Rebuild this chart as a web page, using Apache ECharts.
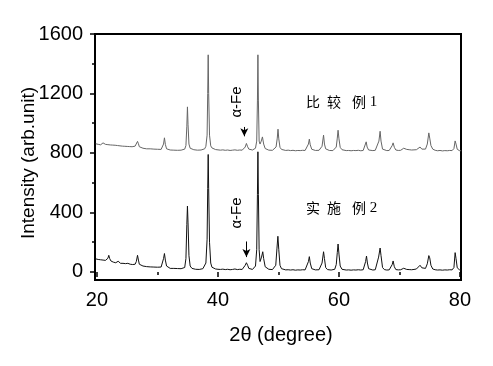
<!DOCTYPE html>
<html>
<head>
<meta charset="utf-8">
<script src="https://cdn.jsdelivr.net/npm/echarts@6/dist/echarts.min.js"></script>
<style>
html,body{margin:0;padding:0;background:#fff;}
#chart{width:493px;height:366px;}
</style>
</head>
<body>
<div id="chart"></div>
<script>
// 2θ (degree) and intensity for 比较例1 (upper trace)
var cmpAngle = [19.8,20.0,20.2,20.4,20.6,20.8,21.0,21.2,21.4,21.6,21.8,22.0,22.2,22.4,22.6,22.8,23.0,23.2,23.4,23.6,23.8,24.0,24.2,24.4,24.6,24.8,25.0,25.2,25.4,25.6,25.8,26.0,26.3,26.5,26.7,26.85,27.0,27.3,27.6,27.9,28.2,28.5,28.8,29.1,29.4,29.7,30.0,30.3,30.6,30.8,31.0,31.15,31.3,31.5,31.8,32.1,32.4,32.7,33.0,33.3,33.6,33.9,34.2,34.5,34.7,34.85,34.95,35.05,35.2,35.4,35.7,36.0,36.3,36.6,36.9,37.2,37.5,37.8,38.0,38.2,38.3,38.38,38.46,38.6,38.8,39.0,39.3,39.6,40.0,40.4,40.8,41.2,41.6,42.0,42.4,42.8,43.2,43.6,44.0,44.3,44.5,44.7,44.9,45.1,45.4,45.7,46.0,46.2,46.4,46.52,46.6,46.68,46.8,46.95,47.15,47.35,47.55,47.8,48.1,48.4,48.7,49.0,49.3,49.6,49.8,49.92,50.05,50.25,50.5,50.8,51.2,51.6,52.0,52.4,52.8,53.2,53.6,54.0,54.4,54.7,54.95,55.1,55.25,55.5,55.8,56.1,56.4,56.7,57.0,57.2,57.45,57.6,57.8,58.1,58.4,58.7,59.0,59.3,59.55,59.72,59.85,60.0,60.2,60.5,60.8,61.2,61.6,62.0,62.4,62.8,63.2,63.6,64.0,64.3,64.5,64.65,64.9,65.2,65.6,66.0,66.3,66.6,66.8,66.95,67.2,67.5,67.9,68.3,68.6,68.8,68.95,69.15,69.4,69.8,70.2,70.5,70.7,70.9,71.2,71.6,72.0,72.4,72.8,73.1,73.4,73.7,74.0,74.3,74.6,74.85,75.0,75.2,75.5,75.9,76.3,76.7,77.1,77.5,77.9,78.3,78.7,79.0,79.2,79.35,79.55,79.9,80.2];
var cmpIntensity = [862,866,858,862,855,860,868,856,858,852,856,864,854,850,853,848,852,847,850,845,848,844,846,842,845,841,844,840,843,839,842,840,846,858,878,862,842,836,832,830,828,826,828,824,826,823,825,822,824,830,860,902,858,828,822,820,822,819,821,818,820,819,821,826,850,980,1110,990,860,832,824,822,820,819,821,820,823,828,845,920,1200,1460,1200,920,848,834,827,823,821,819,821,818,820,817,819,821,818,820,819,824,840,864,842,826,821,820,823,832,880,1150,1460,1150,880,860,880,908,860,830,822,819,820,818,822,840,900,960,895,838,824,819,817,819,816,818,815,817,816,818,817,825,860,893,855,825,818,817,816,818,822,845,920,860,828,819,817,818,816,819,840,900,953,895,838,822,818,816,817,815,817,816,818,815,817,826,875,840,820,817,816,818,826,880,946,880,826,818,816,817,822,850,868,838,820,817,818,825,832,826,824,822,820,821,822,828,840,826,822,826,860,935,900,850,826,818,815,817,814,816,815,817,816,830,881,860,825,816,815];

// 2θ (degree) and intensity for 实施例2 (lower trace)
var expAngle = [19.8,20.0,20.2,20.4,20.6,20.8,21.0,21.2,21.4,21.6,21.8,21.95,22.1,22.3,22.5,22.7,22.9,23.1,23.3,23.5,23.7,23.9,24.1,24.3,24.5,24.7,24.9,25.1,25.3,25.5,25.7,25.9,26.1,26.3,26.5,26.7,26.85,27.0,27.3,27.6,27.9,28.2,28.5,28.8,29.1,29.4,29.7,30.0,30.3,30.6,30.8,31.0,31.15,31.3,31.5,31.8,32.1,32.4,32.7,33.0,33.3,33.6,33.9,34.2,34.5,34.7,34.85,34.95,35.05,35.2,35.4,35.7,36.0,36.3,36.6,36.9,37.2,37.5,37.8,38.0,38.2,38.3,38.38,38.46,38.6,38.8,39.0,39.3,39.6,40.0,40.4,40.8,41.2,41.6,42.0,42.4,42.8,43.2,43.6,44.0,44.3,44.5,44.7,44.9,45.1,45.4,45.7,46.0,46.2,46.4,46.52,46.6,46.68,46.8,46.95,47.2,47.4,47.55,47.8,48.1,48.4,48.7,49.0,49.3,49.55,49.75,49.9,50.05,50.25,50.5,50.8,51.2,51.6,52.0,52.4,52.8,53.2,53.6,54.0,54.4,54.7,54.95,55.1,55.25,55.5,55.8,56.1,56.4,56.7,57.0,57.2,57.45,57.6,57.8,58.1,58.4,58.7,59.0,59.3,59.55,59.72,59.85,60.0,60.2,60.5,60.8,61.2,61.6,62.0,62.4,62.8,63.2,63.6,64.0,64.2,64.4,64.55,64.7,64.9,65.2,65.6,66.0,66.3,66.55,66.8,66.95,67.2,67.5,67.9,68.3,68.6,68.8,68.95,69.15,69.4,69.8,70.2,70.5,70.7,70.9,71.2,71.6,72.0,72.4,72.8,73.1,73.4,73.7,74.0,74.3,74.6,74.85,75.0,75.2,75.5,75.9,76.3,76.7,77.1,77.5,77.9,78.3,78.7,79.0,79.2,79.35,79.55,79.9,80.2];
var expIntensity = [88,90,84,88,82,78,80,76,78,80,92,112,90,74,70,66,68,62,66,72,60,58,56,58,54,56,52,58,50,52,48,50,48,52,70,112,80,52,44,40,38,36,38,34,36,33,35,32,34,33,45,90,124,80,40,27,24,22,24,21,23,20,22,21,30,90,320,443,330,110,40,24,20,18,19,17,19,22,30,60,220,560,790,560,200,60,32,24,20,18,17,19,16,18,15,17,20,16,18,17,24,45,62,45,24,18,17,22,40,150,520,808,520,150,70,100,136,90,35,22,18,17,16,20,45,160,240,150,45,22,16,14,15,13,15,12,14,13,15,14,22,70,103,60,22,15,14,13,15,22,60,136,90,30,16,14,13,15,18,50,130,188,120,40,18,14,13,14,12,14,13,15,13,15,24,70,107,60,22,15,13,15,28,100,161,110,30,16,13,14,20,50,74,35,16,14,15,20,25,20,17,16,15,17,20,28,45,28,20,24,55,110,95,45,20,15,13,14,12,14,13,15,14,30,130,90,28,15,13];

// axis ticks / labels
var xLabelValues = [20, 40, 60, 80];
var xMinorValues = [30, 50, 70];
var yLabelValues = [0, 400, 800, 1200, 1600];
var yMinorValues = [200, 600, 1000, 1400];

// α-Fe marker arrows: [2θ, from, to]
var arrowUpper = [44.35, 975, 912];
var arrowLower = [44.7, 205, 100];

function pairs(xs, ys){ return xs.map(function(x,i){ return [x, ys[i]]; }); }

var chart = echarts.init(document.getElementById('chart'), null, {renderer:'canvas'});
var axisFont = 'Liberation Sans, Arial, sans-serif';
var XMIN = 19.67, XMAX = 80.17, YMIN = -54, YMAX = 1600;
function plain(v){ return String(v); }

function arrowLine(a){
  return {
    silent: true,
    symbol: ['none', 'arrow'],
    symbolSize: [6, 8],
    label: {show: false},
    emphasis: {disabled: true},
    lineStyle: {color: '#000', width: 1, type: 'solid'},
    data: [[{coord: [a[0], a[1]]}, {coord: [a[0], a[2]]}]]
  };
}

var cjk = '14px "Noto Sans CJK SC"';
function glyph(t, x, y, font){
  return {type: 'text', x: x, y: y, style: {text: t, textAlign: 'center', textVerticalAlign: 'middle', font: font, fill: '#000'}};
}

var option = {
  animation: false,
  backgroundColor: '#fff',
  grid: {left: 95, right: 32, top: 34, bottom: 86, show: true, borderColor: '#000', borderWidth: 2, backgroundColor: 'transparent'},
  xAxis: [
    {type: 'value', min: XMIN, max: XMAX, position: 'bottom',
     axisLine: {show: false},
     splitLine: {show: false},
     axisTick: {show: true, length: 5, customValues: xLabelValues, lineStyle: {color: '#000', width: 1.5}},
     axisLabel: {show: true, customValues: xLabelValues, formatter: plain, margin: 10, color: '#000', fontSize: 20, fontFamily: axisFont}},
    {type: 'value', min: XMIN, max: XMAX, position: 'bottom',
     axisLine: {show: false}, splitLine: {show: false},
     axisTick: {show: true, length: 3, customValues: xMinorValues, lineStyle: {color: '#000', width: 1.5}},
     axisLabel: {show: false}}
  ],
  yAxis: [
    {type: 'value', min: YMIN, max: YMAX, position: 'left',
     axisLine: {show: false}, splitLine: {show: false},
     axisTick: {show: true, length: 5, customValues: yLabelValues, lineStyle: {color: '#000', width: 1.5}},
     axisLabel: {show: true, customValues: yLabelValues, formatter: plain, margin: 12, color: '#000', fontSize: 20, fontFamily: axisFont}},
    {type: 'value', min: YMIN, max: YMAX, position: 'left',
     axisLine: {show: false}, splitLine: {show: false},
     axisTick: {show: true, length: 3, customValues: yMinorValues, lineStyle: {color: '#000', width: 1.5}},
     axisLabel: {show: false}}
  ],
  series: [
    {name: '比较例1', type: 'line', xAxisIndex: 0, yAxisIndex: 0, showSymbol: false, symbol: 'none',
     lineStyle: {color: '#666', width: 1}, data: pairs(cmpAngle, cmpIntensity), z: 3,
     markLine: arrowLine(arrowUpper)},
    {name: '实施例2', type: 'line', xAxisIndex: 0, yAxisIndex: 0, showSymbol: false, symbol: 'none',
     lineStyle: {color: '#111', width: 1}, data: pairs(expAngle, expIntensity), z: 4,
     markLine: arrowLine(arrowLower)}
  ],
  graphic: [
    {type: 'text', x: 29, y: 163, rotation: Math.PI/2,
     style: {text: 'Intensity (arb.unit)', x: 0, y: 0, textAlign: 'center', textVerticalAlign: 'middle', font: '19px ' + axisFont, fill: '#000'}},
    {type: 'text', x: 281, y: 335,
     style: {text: '2θ (degree)', textAlign: 'center', textVerticalAlign: 'middle', font: '20px ' + axisFont, fill: '#000'}},
    {type: 'text', x: 237, y: 102, rotation: Math.PI/2,
     style: {text: 'α-Fe', x: 0, y: 0, textAlign: 'center', textVerticalAlign: 'middle', font: '15px ' + axisFont, fill: '#000'}},
    {type: 'text', x: 237, y: 213, rotation: Math.PI/2,
     style: {text: 'α-Fe', x: 0, y: 0, textAlign: 'center', textVerticalAlign: 'middle', font: '15px ' + axisFont, fill: '#000'}},
    glyph('比', 313, 102, cjk),
    glyph('较', 334, 102, cjk),
    glyph('例', 359, 102, cjk),
    glyph('1', 373.5, 102, '15px "Liberation Serif"'),
    glyph('实', 313, 208, cjk),
    glyph('施', 334, 208, cjk),
    glyph('例', 359, 208, cjk),
    glyph('2', 373.5, 208, '15px "Liberation Serif"')
  ]
};
chart.setOption(option);
</script>
</body>
</html>
